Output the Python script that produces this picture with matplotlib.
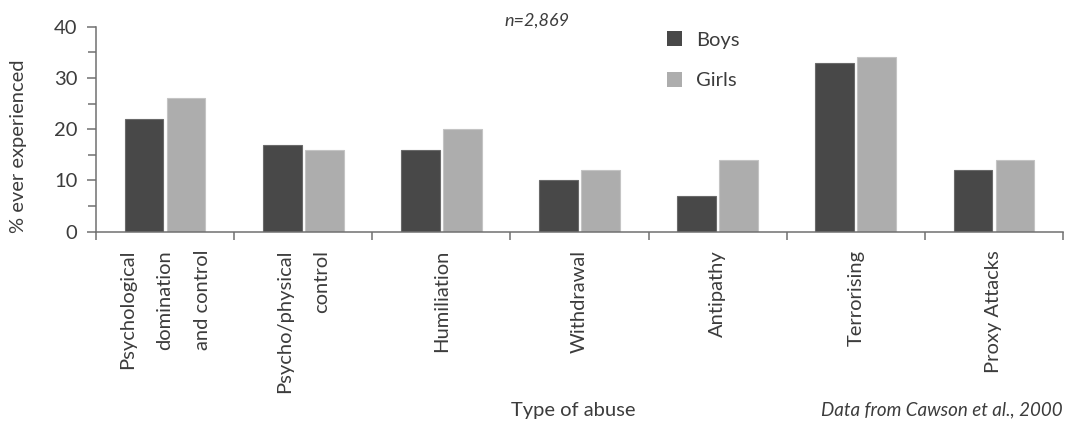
import matplotlib
matplotlib.use("Agg")
import matplotlib.pyplot as plt
from matplotlib.ticker import MultipleLocator, FixedLocator
from matplotlib.patches import Patch
import numpy as np

categories = [
    "Psychological\ndomination\nand control",
    "Psycho/physical\ncontrol",
    "Humiliation",
    "Withdrawal",
    "Antipathy",
    "Terrorising",
    "Proxy Attacks",
]
boys = [22, 17, 16, 10, 7, 33, 12]
girls = [26, 16, 20, 12, 14, 34, 14]
series_labels = ["Boys", "Girls"]

BOYS_C = "#484848"
GIRLS_C = "#adadad"
TEXT_C = "#3c3c3c"
AXIS_C = "#707070"

plt.rcParams["font.family"] = ["Lato", "DejaVu Sans"]

fig = plt.figure(figsize=(10.66, 4.23), dpi=100)
ax = fig.add_axes([0.0901, 0.4522, 0.9071, 0.4847])

x = np.arange(len(categories))
w = 0.28
off = 0.152
ax.bar(x - off, boys, width=w, color=BOYS_C, edgecolor="#6a6a6a", linewidth=0.8)
ax.bar(x + off, girls, width=w, color=GIRLS_C, edgecolor="#c4c4c4", linewidth=0.8)

ax.set_xlim(-0.5, len(categories) - 0.5)
ax.set_ylim(0, 40)

for s in ["top", "right"]:
    ax.spines[s].set_visible(False)
for s in ["left", "bottom"]:
    ax.spines[s].set_color(AXIS_C)
    ax.spines[s].set_linewidth(1.1)

# y axis ticks
ax.yaxis.set_major_locator(MultipleLocator(10))
ax.yaxis.set_minor_locator(MultipleLocator(5))
ax.tick_params(axis="y", which="major", length=6.5, width=1.1, color=AXIS_C,
               labelsize=14.5, labelcolor=TEXT_C, pad=7)
ax.tick_params(axis="y", which="minor", length=5.5, width=1.1, color=AXIS_C)

# x axis: boundary ticks, labels at category centres
ax.set_xticks(x)
ax.set_xticklabels(categories, rotation=90, ha="center", va="top",
                   multialignment="right", linespacing=2.45)
ax.xaxis.set_minor_locator(FixedLocator(np.arange(-0.5, len(categories), 1.0)))
ax.tick_params(axis="x", which="major", length=0, labelsize=14.5,
               labelcolor=TEXT_C, pad=13)
ax.tick_params(axis="x", which="minor", length=6, width=1.1, color=AXIS_C)

fig.text(0.017, 0.655, "% ever experienced", rotation=90, ha="center",
         va="center", fontsize=14.5, color=TEXT_C)
fig.text(0.538, 0.03, "Type of abuse", ha="center", va="center",
         fontsize=14.5, color=TEXT_C)
fig.text(0.77, 0.03, "Data from Cawson et al., 2000", ha="left", va="center",
         fontsize=13.5, style="italic", color=TEXT_C)
fig.text(0.504, 0.952, "n=2,869", ha="center", va="center",
         fontsize=13, style="italic", color=TEXT_C)

handles = [Patch(facecolor=BOYS_C, edgecolor="none"),
           Patch(facecolor=GIRLS_C, edgecolor="none")]
fig.legend(handles, series_labels, loc="upper left",
           bbox_to_anchor=(0.618, 0.945), frameon=False, fontsize=14.5,
           handlelength=0.75, handleheight=0.75, handletextpad=0.7,
           labelspacing=1.15, labelcolor=TEXT_C, borderaxespad=0)

fig.savefig("out.png", dpi=100)
